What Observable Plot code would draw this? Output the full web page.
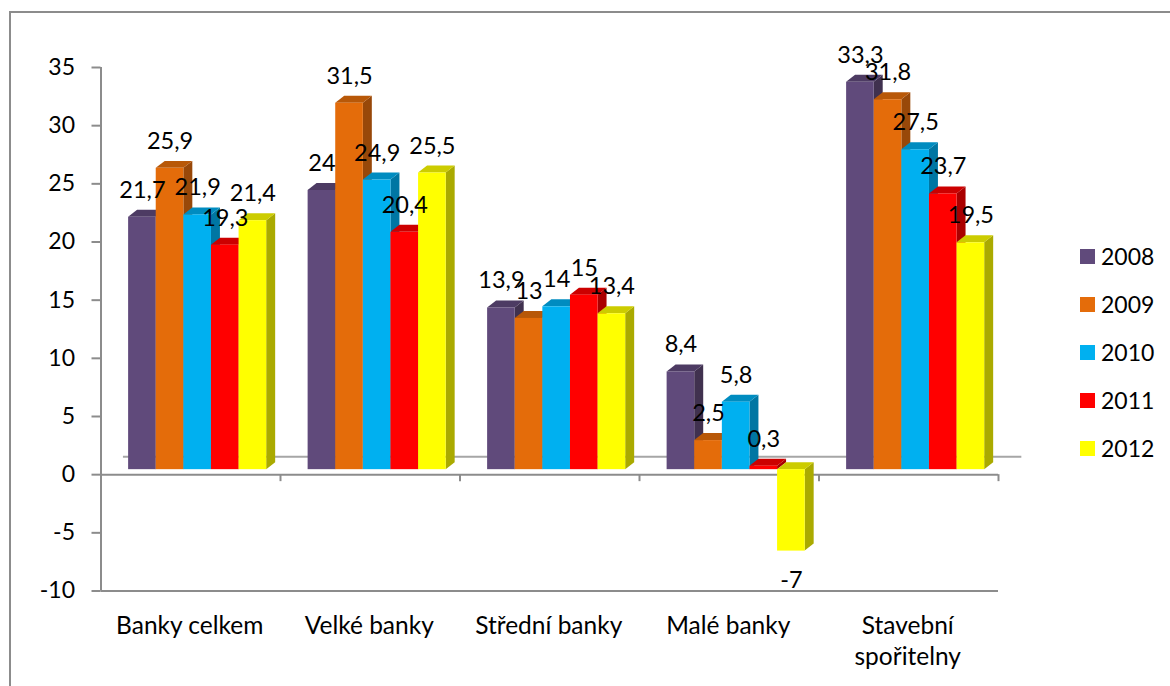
<!DOCTYPE html>
<html lang="cs">
<head>
<meta charset="utf-8">
<script src="https://cdn.jsdelivr.net/npm/d3@7"></script>
<script src="https://cdn.jsdelivr.net/npm/@observablehq/plot@0.6"></script>
<style>
  html, body { margin: 0; padding: 0; background: #fff; }
  body { width: 1170px; height: 686px; overflow: hidden; position: relative; font-family: Lato, sans-serif; }
  #frame { position: absolute; left: 9px; top: 11px; width: 1170px; height: 700px; border: 2px solid #8c8c8c; box-sizing: border-box; }
  #chart { position: absolute; left: 0; top: 0; }
  #legend { position: absolute; left: 1080px; top: 232px; }
  #legend div { display: flex; align-items: center; height: 48px; font-size: 23px; color: #000; }
  #legend i { display: block; width: 15px; height: 15px; margin-right: 6px; }
</style>
</head>
<body>
<div id="frame"></div>
<div id="chart"></div>
<div id="legend"></div>
<script>
const categories = ["Banky celkem", "Velké banky", "Střední banky", "Malé banky", "Stavební\nspořitelny"];
const years = ["2008", "2009", "2010", "2011", "2012"];
const values2008 = [21.7, 24, 13.9, 8.4, 33.3];
const values2009 = [25.9, 31.5, 13, 2.5, 31.8];
const values2010 = [21.9, 24.9, 14, 5.8, 27.5];
const values2011 = [19.3, 20.4, 15, 0.3, 23.7];
const values2012 = [21.4, 25.5, 13.4, -7, 19.5];
const series = [values2008, values2009, values2010, values2011, values2012];

const frontColors = ["#604a7b", "#e46c0a", "#00b0f0", "#ff0000", "#ffff00"];
const sideColors = ["#40314f", "#984809", "#0076a3", "#aa0000", "#aaaa00"];
const topColors = ["#4d3b63", "#b85808", "#008cc0", "#cc0000", "#cccc00"];
const axisColor = "#8c8c8c";

// Extruded column geometry in scale units: one category spans 6.5 column slots,
// and the front faces sit slightly above the zero line on the chart floor.
const slot = 1 / 6.5;
const depthX = 0.05;
const depthY = 0.6;
const floor = 0.43;
const backWall = 1.55;

const bars = series.flatMap((vals, s) => vals.map((value, c) => {
  const x1 = c + slot * (1 + s);
  const y2 = floor + value;
  return {
    id: `${c}-${s}`, s, value, x1, x2: x1 + slot,
    low: Math.min(floor, y2), high: Math.max(floor, y2),
    label: String(value).replace(".", ",")
  };
}));

const sidePoints = bars.flatMap(b => [
  {id: b.id, s: b.s, x: b.x2, y1: b.low, y2: b.high},
  {id: b.id, s: b.s, x: b.x2 + depthX, y1: b.low + depthY, y2: b.high + depthY}
]);
const topPoints = bars.flatMap(b => [
  {id: b.id, s: b.s, y: b.high, x1: b.x1, x2: b.x2},
  {id: b.id, s: b.s, y: b.high + depthY, x1: b.x1 + depthX, x2: b.x2 + depthX}
]);

const chart = Plot.plot({
  width: 1170,
  height: 686,
  marginTop: 67,
  marginBottom: 95.5,
  marginLeft: 100.5,
  marginRight: 172,
  style: {fontFamily: "Lato, sans-serif", fontSize: "23px", color: "#000", background: "transparent", overflow: "visible"},
  x: {domain: [0, 5], axis: null},
  y: {domain: [-10, 35], axis: null},
  marks: [
    // axes and the back edge of the chart floor
    Plot.ruleY([backWall], {x1: 0.125, x2: 5.13, stroke: "#a6a6a6", strokeWidth: 2}),
    Plot.ruleX([0], {y1: -10, y2: 35, stroke: axisColor, strokeWidth: 2}),
    Plot.ruleY([0, -10], {x1: 0, x2: 5, stroke: axisColor, strokeWidth: 2}),
    Plot.ruleX([1, 2, 3, 4, 5], {y1: 0, y2: -0.6, stroke: axisColor, strokeWidth: 2}),
    Plot.axisY({
      anchor: "left", ticks: d3.range(-10, 36, 5), tickSize: 9, tickPadding: 17,
      stroke: axisColor, strokeWidth: 2, strokeOpacity: 1, label: null, tickFormat: d => String(d),
      fontSize: 23, fill: "#000"
    }),
    // extruded faces, painted back to front
    Plot.areaY(sidePoints, {x: "x", y1: "y1", y2: "y2", z: "id", fill: d => sideColors[d.s]}),
    Plot.areaX(topPoints, {y: "y", x1: "x1", x2: "x2", z: "id", fill: d => topColors[d.s]}),
    Plot.rect(bars, {x1: "x1", x2: "x2", y1: "low", y2: "high", fill: d => frontColors[d.s]}),
    // category names under the plot
    Plot.text(categories, {
      x: (d, i) => i + 0.5, y: -10, dy: 20, dx: -1, lineAnchor: "top", text: d => d,
      lineHeight: 1.3, fill: "#000", fontSize: 24.5, textAnchor: "middle"
    }),
    // data labels
    Plot.text(bars.filter(d => d.value >= 0), {
      x: d => d.x1 + slot / 2, y: "high", dy: -27,
      text: "label", fill: "#000", fontSize: 23.5
    }),
    Plot.text(bars.filter(d => d.value < 0), {
      x: d => d.x1 + slot / 2, y: "low", dy: 29,
      text: "label", fill: "#000", fontSize: 23.5
    })
  ]
});
document.getElementById("chart").append(chart);

// Year key on the right of the plot
const legend = d3.select("#legend");
years.forEach((year, i) => {
  const row = legend.append("div");
  row.append("i").style("background", frontColors[i]);
  row.append("span").text(year);
});
</script>
</body>
</html>
